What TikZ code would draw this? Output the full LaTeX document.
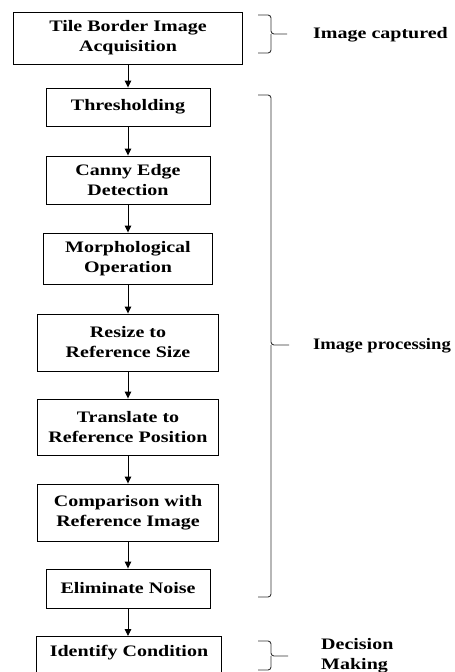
\documentclass[tikz,border=0pt]{standalone}
\usepackage{fontspec}
\setmainfont{Liberation Serif}[FakeStretch=1.25]
\usetikzlibrary{arrows.meta}
\begin{document}
\begin{tikzpicture}[x=1pt,y=-1pt,
  lbl/.style={font=\bfseries\fontsize{16}{20}\selectfont},
  box/.style={draw, line width=0.9pt, align=center, inner sep=0pt, lbl},
  flow/.style={line width=0.9pt, -{Triangle[length=7pt,width=6.5pt]}},
  brk/.style={draw=black!80, line width=0.9pt, rounded corners=3pt},
  side/.style={lbl, anchor=west, align=left, inner sep=0pt}]
\useasboundingbox (0,0) rectangle (455,672);
\node[box, minimum width=229pt, minimum height=52pt] (b1) at (128,38) {Tile Border Image\\Acquisition};
\node[box, minimum width=164pt, minimum height=38pt] (b2) at (128,107) {Thresholding};
\node[box, minimum width=164pt, minimum height=48pt] (b3) at (128,180) {Canny Edge\\Detection};
\node[box, minimum width=169pt, minimum height=51pt] (b4) at (128,258.5) {Morphological\\Operation};
\node[box, minimum width=181pt, minimum height=57pt] (b5) at (128,342.5) {Resize to\\Reference Size};
\node[box, minimum width=181pt, minimum height=56pt] (b6) at (128,427) {Translate to\\Reference Position};
\node[box, minimum width=181pt, minimum height=57pt] (b7) at (128,512.5) {Comparison with\\Reference Image};
\node[box, minimum width=164pt, minimum height=39pt] (b8) at (128,588.5) {Eliminate Noise};
\node[box, minimum width=185pt, anchor=north, text height=20pt, text depth=30pt] (b9) at (129,636) {Identify Condition};
\draw[flow] (b1) -- (b2);
\draw[flow] (b2) -- (b3);
\draw[flow] (b3) -- (b4);
\draw[flow] (b4) -- (b5);
\draw[flow] (b5) -- (b6);
\draw[flow] (b6) -- (b7);
\draw[flow] (b7) -- (b8);
\draw[flow] (b8.south) -- (b8.south |- b9.north);
% brackets
\coordinate (c1) at (287,34);
\coordinate (c2) at (289,345);
\coordinate (c3) at (288,656);
\draw[brk] (258,15) -- (271,15) -- (271,34) -- (c1);
\draw[brk] (258,53) -- (271,53) -- (271,34);
\draw[brk] (258,95) -- (271,95) -- (271,345) -- (c2);
\draw[brk] (258,597) -- (271,597) -- (271,345);
\draw[brk] (258,641) -- (271,641) -- (271,656) -- (c3);
\draw[brk] (258,670) -- (271,670) -- (271,656);
\node[side] (t1) at (313,35) {Image captured};
\node[side] (t2) at (313,346) {\scalebox{0.93}[1]{Image processing}};
\node[side] (t3) at (321,656) {Decision\\Making};
\end{tikzpicture}
\end{document}
